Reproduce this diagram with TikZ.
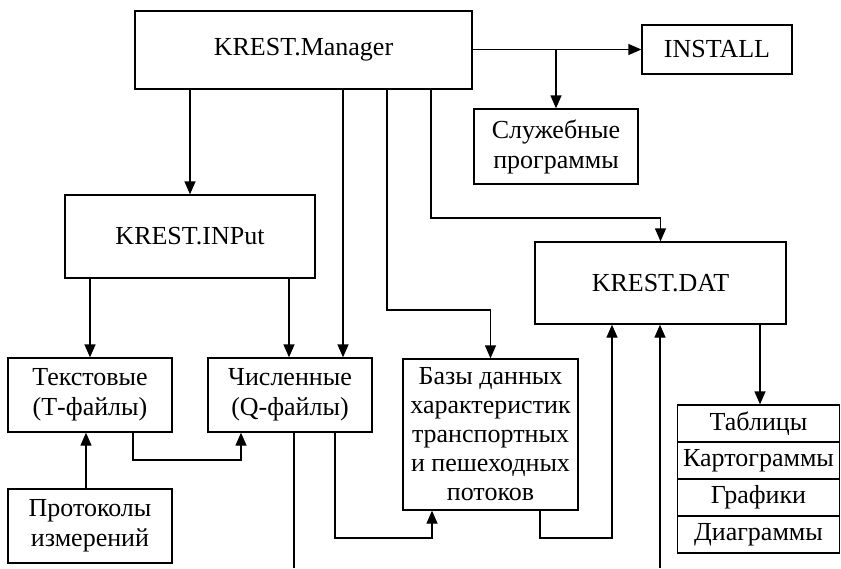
\documentclass[tikz,border=0pt]{standalone}
\usepackage{fontspec}
\setmainfont{Liberation Serif}
\usetikzlibrary{arrows.meta}
\begin{document}
\begin{tikzpicture}[x=1pt,y=-1pt,
  box/.style={draw, line width=1.3pt, inner sep=0pt, align=center, font=\fontsize{26}{30}\selectfont},
  arr/.style={line width=1.3pt, -{Triangle[length=13pt,width=11pt]}},
  ln/.style={line width=1.3pt}]
\useasboundingbox (0,0) rectangle (841,568);
% boxes
\node[box, minimum width=337pt, minimum height=78pt] (man) at (303.5,50) {KREST.Manager};
\node[box, minimum width=150pt, minimum height=49pt] (inst) at (717,49.5) {INSTALL};
\node[box, minimum width=164pt, minimum height=75pt] (sl) at (556,146.5) {Служебные\\программы};
\node[box, minimum width=250pt, minimum height=83pt] (inp) at (190,236.5) {KREST.INPut};
\node[box, minimum width=251pt, minimum height=82pt] (dat) at (660.5,283) {KREST.DAT};
\node[box, minimum width=164pt, minimum height=74pt] (txt) at (90,395) {Текстовые\\(Т-файлы)};
\node[box, minimum width=164pt, minimum height=74pt] (chi) at (290,395) {Численные\\(Q-файлы)};
\node[box, minimum width=175pt, minimum height=151pt, font=\fontsize{26}{29}\selectfont] (baz) at (490.5,434.5) {Базы данных\\характеристик\\транспортных\\и пешеходных\\потоков};
\node[box, minimum width=164pt, minimum height=74pt] (prot) at (90,526) {Протоколы\\измерений};
\node[box, minimum width=162pt, minimum height=37pt] (t1) at (758.5,423.5) {Таблицы};
\node[box, minimum width=162pt, minimum height=37pt] (t2) at (758.5,460.5) {Картограммы};
\node[box, minimum width=162pt, minimum height=37pt] (t3) at (758.5,497.5) {Графики};
\node[box, minimum width=162pt, minimum height=37pt] (t4) at (758.5,534.5) {Диаграммы};
% helper coordinates
\coordinate (xa) at (343,0);
\coordinate (xb) at (387,0);
\coordinate (xc) at (431,0);
\coordinate (xd) at (289,0);
\coordinate (xe) at (86,0);
\coordinate (xf) at (133,0);
\coordinate (xg) at (241,0);
\coordinate (xh) at (294,0);
\coordinate (xi) at (335,0);
\coordinate (xj) at (432,0);
\coordinate (xk) at (540,0);
\coordinate (xl) at (612,0);
\coordinate (xm) at (660,0);
\coordinate (xn) at (760,0);
\coordinate (y1) at (0,310);
\coordinate (y2) at (0,218);
\coordinate (y3) at (0,460);
\coordinate (y4) at (0,538);
\coordinate (yb) at (0,568);
\coordinate (freeQ) at (xh |- yb);
\coordinate (freeD) at (xm |- yb);
% connectors
\draw[arr] (man.south -| inp.north) -- (inp.north);
\draw[arr] (inst.west -| man.east) -- (inst.west);
\draw[arr] (inst.west -| sl.north) -- (sl.north);
\draw[arr] (man.south -| xa) -- (chi.north -| xa);
\draw[arr] (man.south -| xb) |- (baz.north |- y1) -- (baz.north);
\draw[arr] (man.south -| xc) |- (dat.north |- y2) -- (dat.north);
\draw[arr] (inp.south -| txt.north) -- (txt.north);
\draw[arr] (inp.south -| xd) -- (chi.north -| xd);
\draw[arr] (prot.north -| xe) -- (txt.south -| xe);
\draw[arr] (txt.south -| xf) |- (xg |- y3) -- (chi.south -| xg);
\draw[ln] (chi.south -| xh) -- (freeQ);
\draw[arr] (chi.south -| xi) |- (xj |- y4) -- (baz.south -| xj);
\draw[arr] (baz.south -| xk) |- (xl |- y4) -- (dat.south -| xl);
\draw[arr] (freeD) -- (dat.south -| xm);
\draw[arr] (dat.south -| xn) -- (t1.north -| xn);
\end{tikzpicture}
\end{document}
